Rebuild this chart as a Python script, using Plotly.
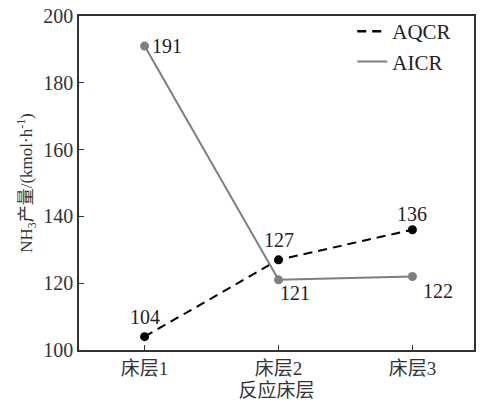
import plotly.graph_objects as go

categories = ["床层1", "床层2", "床层3"]
aqcr = [104, 127, 136]
aicr = [191, 121, 122]
aqcr_labels = ["104", "127", "136"]
aicr_labels = ["191", "121", "122"]

FONT = "Liberation Serif, Times New Roman, Noto Sans CJK SC, serif"
xi = [0, 1, 2]
DASH = "9px,6px"

fig = go.Figure()
fig.add_trace(go.Scatter(
    x=xi, y=aqcr, mode="lines+markers", name="AQCR", showlegend=False,
    line=dict(color="black", width=2, dash=DASH),
    marker=dict(color="black", size=9),
))
fig.add_trace(go.Scatter(
    x=xi, y=aicr, mode="lines+markers", name="AICR", showlegend=False,
    line=dict(color="#7f7f7f", width=2),
    marker=dict(color="#7f7f7f", size=9),
))
# legend entries (lines only)
fig.add_trace(go.Scatter(x=[None], y=[None], mode="lines", name="AQCR",
                         line=dict(color="black", width=2.5, dash=DASH)))
fig.add_trace(go.Scatter(x=[None], y=[None], mode="lines", name="AICR",
                         line=dict(color="#7f7f7f", width=2)))

# data labels
aqcr_pos = [(0, 20), (0, 20), (0, 16)]
aicr_pos = [(22, 0), (16, -13), (26, -14)]
for i, (v, t) in enumerate(zip(aqcr, aqcr_labels)):
    dx, dy = aqcr_pos[i]
    fig.add_annotation(x=xi[i], y=v, text=t, showarrow=False, xshift=dx, yshift=dy,
                       font=dict(family=FONT, size=20, color="#222"))
for i, (v, t) in enumerate(zip(aicr, aicr_labels)):
    dx, dy = aicr_pos[i]
    fig.add_annotation(x=xi[i], y=v, text=t, showarrow=False, xshift=dx, yshift=dy,
                       font=dict(family=FONT, size=20, color="#222"))

fig.update_layout(
    width=483, height=403,
    margin=dict(l=79, r=9, t=16, b=53),
    paper_bgcolor="white", plot_bgcolor="white",
    font=dict(family=FONT, size=18, color="#333"),
    showlegend=True,
    legend=dict(x=0.955, y=1.015, xanchor="right", yanchor="top",
                bgcolor="rgba(0,0,0,0)", font=dict(family=FONT, size=21, color="#222"),
                tracegroupgap=0, itemwidth=30),
    xaxis=dict(
        tickmode="array", tickvals=xi, ticktext=categories, automargin=False,
        range=[-0.49, 2.46], showline=True, linecolor="#333", linewidth=1.5,
        mirror=True, ticks="inside", ticklen=5, tickcolor="#333",
        showgrid=False, zeroline=False,
        title=dict(text="反应床层", font=dict(family=FONT, size=19, color="#333"), standoff=6),
        tickfont=dict(family=FONT, size=19, color="#333"),
    ),
    yaxis=dict(
        range=[100, 200], dtick=20, showline=True, linecolor="#333", linewidth=1.5,
        mirror=True, ticks="inside", ticklen=5, tickcolor="#333", automargin=False,
        showgrid=False, zeroline=False,
        title=dict(text="NH<sub>3</sub>产量/(kmol·h<sup>-1</sup>)",
                   font=dict(family=FONT, size=17, color="#333"), standoff=6),
        tickfont=dict(family=FONT, size=20, color="#333"),
    ),
)

fig.write_html("out.html")
